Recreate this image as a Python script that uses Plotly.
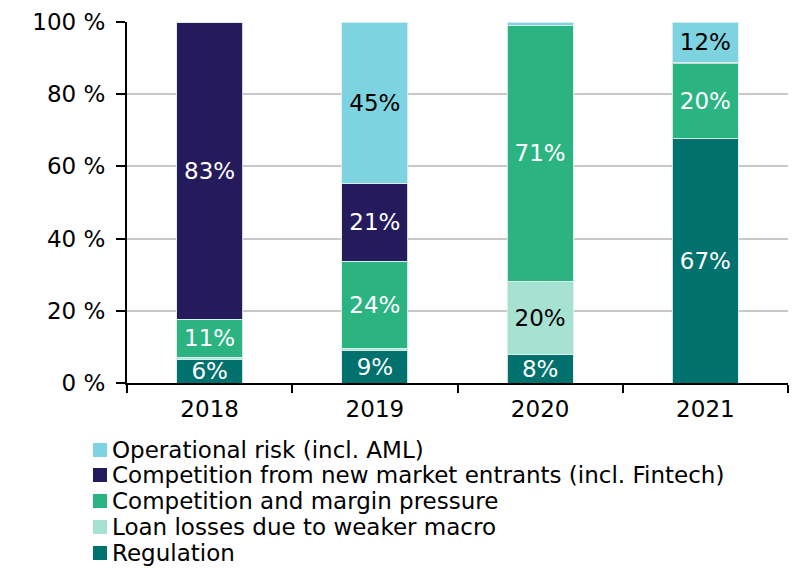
import plotly.graph_objects as go

years = ["2018", "2019", "2020", "2021"]
regulation = [6.6, 9.1, 8.0, 67.6]
loan_losses = [0.5, 0.5, 20.2, 0.0]
competition_margin = [10.5, 24.1, 70.9, 20.8]
new_entrants = [82.4, 21.6, 0.0, 0.4]
operational = [0.0, 44.7, 0.9, 11.2]

regulation_txt = ["6%", "9%", "8%", "67%"]
loan_txt = ["", "", "20%", ""]
margin_txt = ["11%", "24%", "71%", "20%"]
entrants_txt = ["83%", "21%", "", ""]
operational_txt = ["", "45%", "", "12%"]

FONT = "DejaVu Sans, Liberation Sans, Arial"

series = [
    ("Regulation", regulation, regulation_txt, "#00716c", "white"),
    ("Loan losses due to weaker macro", loan_losses, loan_txt, "#a7e1d2", "black"),
    ("Competition and margin pressure", competition_margin, margin_txt, "#2bb482", "white"),
    ("Competition from new market entrants (incl. Fintech)", new_entrants, entrants_txt, "#241a5c", "white"),
    ("Operational risk (incl. AML)", operational, operational_txt, "#7dd3df", "black"),
]

fig = go.Figure()
for name, vals, txt, color, tcolor in series:
    fig.add_trace(go.Bar(
        x=years, y=vals, name=name, text=txt,
        textposition="inside", insidetextanchor="middle",
        textangle=0, constraintext="none",
        textfont=dict(size=23, color=tcolor, family=FONT),
        marker=dict(color=color, line=dict(color="rgba(220,240,235,0.9)", width=1)),
        width=0.4, cliponaxis=False, showlegend=False,
    ))

# Plot area in pixels (for placing the legend below the axis)
L, R, T, B = 127, 788, 22, 383
def px_x(p):
    return (p - L) / (R - L)
def px_y(p):
    return (B - p) / (B - T)

legend_rows = [450, 475, 501, 527, 553]
for (name, vals, txt, color, tcolor), yc in zip(reversed(series), legend_rows):
    fig.add_shape(type="rect", xref="paper", yref="paper",
                  x0=px_x(93), x1=px_x(107), y0=px_y(yc + 7), y1=px_y(yc - 7),
                  fillcolor=color, line=dict(width=0))
    fig.add_annotation(xref="paper", yref="paper", x=px_x(110), y=px_y(yc),
                       xanchor="left", yanchor="middle", text=name, showarrow=False,
                       font=dict(size=23, color="black", family=FONT))

fig.update_layout(
    barmode="stack",
    width=800, height=568,
    margin=dict(l=L, r=800 - R, t=T, b=568 - B, autoexpand=False),
    plot_bgcolor="white", paper_bgcolor="white",
    font=dict(family=FONT, size=23, color="black"),
    showlegend=False,
    xaxis=dict(
        showline=True, linecolor="black", linewidth=2,
        ticks="outside", tickson="boundaries", ticklen=8, tickcolor="black", tickwidth=2,
        tickfont=dict(size=23), tickangle=0, ticklabelstandoff=4,
        showgrid=False,
    ),
    yaxis=dict(
        range=[0, 100],
        tickvals=[0, 20, 40, 60, 80, 100],
        ticktext=["0 %", "20 %", "40 %", "60 %", "80 %", "100 %"],
        showline=True, linecolor="black", linewidth=2,
        ticks="outside", ticklen=9, tickcolor="black", tickwidth=2,
        ticklabelstandoff=6,
        showgrid=True, gridcolor="#c8c8c8", gridwidth=2,
        tickfont=dict(size=23),
        zeroline=False,
    ),
)

fig.write_html("out.html")
